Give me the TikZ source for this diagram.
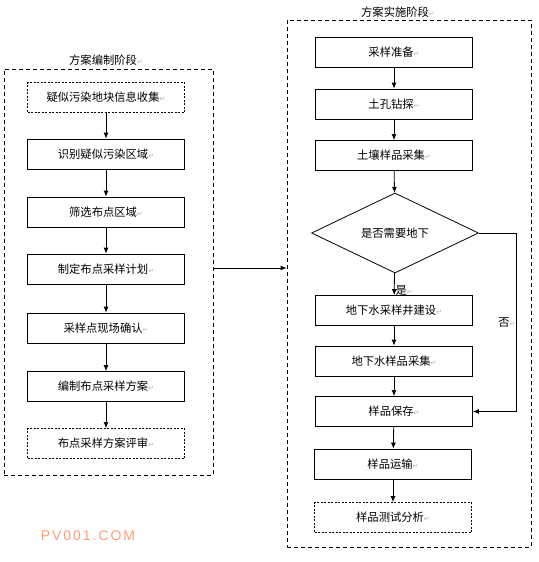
\documentclass[tikz,border=0pt]{standalone}
\usepackage{fontspec}
\setmainfont{Noto Sans CJK SC}
\newfontfamily\symfont{DejaVu Sans}
\newfontfamily\wmfont[LetterSpace=14]{Liberation Sans}
\usetikzlibrary{arrows.meta,shapes.geometric}
\newcommand{\pmark}{{\color{black!30}\symfont\fontsize{7}{8}\selectfont ↵}}

\begin{document}
\begin{tikzpicture}[x=1pt,y=-1pt,
    every node/.style={font=\fontsize{11.3}{13}\selectfont},
    box/.style={draw, line width=0.8pt, minimum width=157pt, minimum height=30pt, inner sep=0pt},
    dbox/.style={box, dash pattern=on 2pt off 1.5pt},
    frame/.style={draw, line width=0.8pt, dash pattern=on 4pt off 3pt, inner sep=0pt},
    arr/.style={-{Latex[length=6pt,width=5pt]}, line width=0.8pt}]
    \useasboundingbox (0,0) rectangle (538,562);
    \node[frame, minimum width=209pt, minimum height=406pt] (lf) at (108.5,272) {};
    \node[frame, minimum width=244pt, minimum height=527pt] (rf) at (409,283.5) {};
    \node (lt) at (106,60) {方案编制阶段\pmark};
    \node (rt) at (398,12) {方案实施阶段\pmark};
    \node[dbox] (p1) at (106,97.5) {疑似污染地块信息收集\pmark};
    \node[box] (p2) at (106,154) {识别疑似污染区域\pmark};
    \node[box] (p3) at (106,212) {筛选布点区域\pmark};
    \node[box] (p4) at (106,269) {制定布点采样计划\pmark};
    \node[box] (p5) at (106,328) {采样点现场确认\pmark};
    \node[box] (p6) at (106,386.5) {编制布点采样方案\pmark};
    \node[dbox] (p7) at (106,443.5) {布点采样方案评审\pmark};
    \draw[arr] (p1) -- (p2);
    \draw[arr] (p2) -- (p3);
    \draw[arr] (p3) -- (p4);
    \draw[arr] (p4) -- (p5);
    \draw[arr] (p5) -- (p6);
    \draw[arr] (p6) -- (p7);
    \coordinate (link) at (213,268);
    \draw[arr] (link) -- (link -| rf.west);
    \node[box] (s1) at (394,52.5) {采样准备\pmark};
    \node[box] (s2) at (394,104) {土孔钻探\pmark};
    \node[box] (s3) at (394,155.5) {土壤样品采集\pmark};
    \node[draw, line width=0.8pt, diamond, minimum width=167pt, minimum height=80pt, inner sep=0pt] (q) at (395,233) {是否需要地下};
    \node[box] (s4) at (394,310.5) {地下水采样井建设\pmark};
    \node[box] (s5) at (394,361) {地下水样品采集\pmark};
    \node[box] (s6) at (394,411.5) {样品保存\pmark};
    \node[box] (s7) at (393,464) {样品运输\pmark};
    \node[dbox] (s8) at (393,517.5) {样品测试分析\pmark};
    \draw[arr] (s1) -- (s2);
    \draw[arr] (s2) -- (s3);
    \draw[arr] (s3) -- (q);
    \draw[arr] (q) -- node[pos=0.78, right, inner sep=1pt] {是\pmark} (s4);
    \draw[arr] (s4) -- (s5);
    \draw[arr] (s5) -- (s6);
    \draw[arr] (s6) -- (s7);
    \draw[arr] (s7) -- (s8);
    \coordinate (nobend) at (516,233);
    \draw[arr] (q.east) -- (nobend) |- node[pos=0.25, left, inner sep=0pt] {否\pmark} (s6.east);
    \node[text=orange!60!red!55, font=\wmfont\fontsize{14}{16}\selectfont] (wm) at (88,536) {PV001.COM};
\end{tikzpicture}
\end{document}
